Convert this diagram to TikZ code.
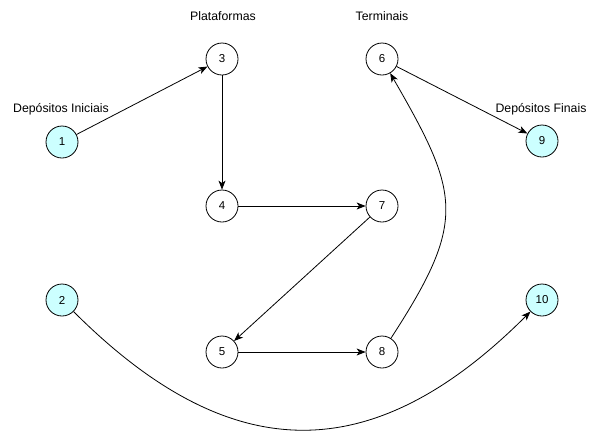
\documentclass[tikz,border=0pt]{standalone}
\usepackage{fontspec}
\setmainfont{Liberation Sans}
\usetikzlibrary{arrows.meta}
\definecolor{depo}{HTML}{CCFFFF}
\tikzset{
  vtx/.style={circle,draw=black,line width=0.8pt,minimum size=32pt,inner sep=0pt,font=\fontsize{11.5}{13}\selectfont,fill=white},
  depot/.style={vtx,fill=depo},
  lbl/.style={font=\fontsize{12.3}{14}\selectfont,inner sep=0pt},
  edge/.style={line width=0.8pt,-{Stealth[length=9pt,width=7pt,inset=2.5pt]}}
}
\begin{document}
\begin{tikzpicture}[x=1pt,y=-1pt]
\useasboundingbox (0,0) rectangle (591,432);
\node[depot] (n1) at (62,142) {1};
\node[vtx] (n3) at (222,59) {3};
\node[vtx] (n6) at (382,59) {6};
\node[depot] (n9) at (542,141) {9};
\node[vtx] (n4) at (222,206) {4};
\node[vtx] (n7) at (382,206) {7};
\node[depot] (n2) at (62,300) {2};
\node[depot] (n10) at (542,300) {10};
\node[vtx] (n5) at (222,352) {5};
\node[vtx] (n8) at (382,352) {8};
\node[lbl] (lp) at (223,16) {Plataformas};
\node[lbl] (lt) at (382,16) {Terminais};
\node[lbl] (li) at (61,109) {Depósitos Iniciais};
\node[lbl] (lf) at (541,109) {Depósitos Finais};
\draw[edge] (n1) -- (n3);
\draw[edge] (n3) -- (n4);
\draw[edge] (n4) -- (n7);
\draw[edge] (n7) -- (n5);
\draw[edge] (n5) -- (n8);
\draw[edge] (n6) -- (n9);
\draw[edge] (n8) to[out=57,in=-60,looseness=1.35] (n6);
\draw[edge] (n2) to[out=-45,in=-135,looseness=1.25] (n10);
\end{tikzpicture}
\end{document}
